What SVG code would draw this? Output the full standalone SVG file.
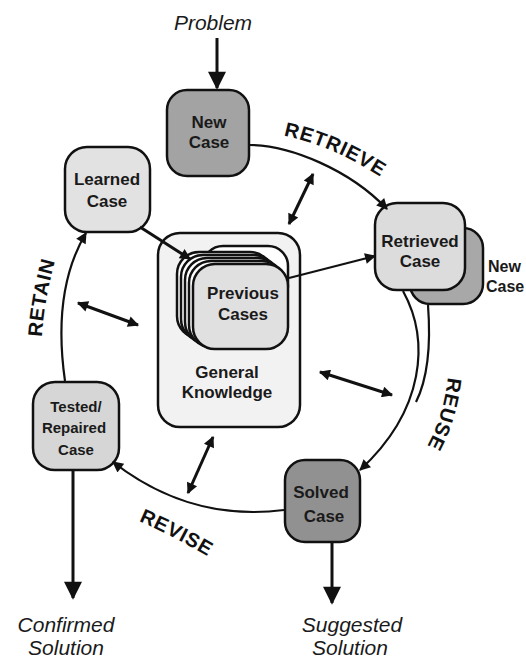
<svg xmlns="http://www.w3.org/2000/svg" width="526" height="660" viewBox="0 0 526 660">
<style>
.box{stroke:#111;stroke-width:2.5}
.lbl{font-family:"Liberation Sans",Arial,sans-serif;font-weight:bold;font-size:17px;fill:#1a1a1a;text-anchor:middle}
.sm{font-size:15px}
.it{font-family:"Liberation Sans",Arial,sans-serif;font-style:italic;font-size:21px;fill:#1a1a1a;text-anchor:middle}
.stage{font-family:"Liberation Sans",Arial,sans-serif;font-weight:bold;font-size:20px;fill:#111;letter-spacing:0.8px}
.arc{fill:none;stroke:#111;stroke-width:2.2}
.thick{fill:none;stroke:#111;stroke-width:3}
</style>
<defs>
<marker id="ah" viewBox="0 0 10 10" refX="9" refY="5" markerWidth="16" markerHeight="11" markerUnits="userSpaceOnUse" orient="auto-start-reverse"><path d="M0,0 L10,5 L0,10 z" fill="#111"/></marker>
<marker id="big" viewBox="0 0 10 10" refX="9" refY="5" markerWidth="28" markerHeight="18" markerUnits="userSpaceOnUse" orient="auto"><path d="M0,0 L10,5 L0,10 z" fill="#111"/></marker>
<path id="pRetrieve" d="M268,133 Q330,141 394,186"/>
<path id="pReuse" d="M449,366 Q445,420 421,456"/>
<path id="pRevise" d="M126,516 Q172,534 220,564"/>
<path id="pRetain" d="M41,350 Q43,298 59,248"/>
</defs>

<g id="stage-labels">
<text class="stage"><textPath href="#pRetrieve" startOffset="50%" text-anchor="middle">RETRIEVE</textPath></text>
<text class="stage"><textPath href="#pReuse" startOffset="50%" text-anchor="middle">REUSE</textPath></text>
<text class="stage"><textPath href="#pRevise" startOffset="50%" text-anchor="middle">REVISE</textPath></text>
<text class="stage"><textPath href="#pRetain" startOffset="50%" text-anchor="middle">RETAIN</textPath></text>
</g>

<g id="problem"><text class="it" x="213" y="30">Problem</text></g>

<g id="new-case">
<rect class="box" x="167" y="90" width="82" height="86" rx="20" fill="#a3a3a3"/>
<text class="lbl" x="209" y="128">New</text>
<text class="lbl" x="209" y="148">Case</text>
</g>

<g id="retrieved-case">
<rect class="box" x="410" y="228" width="73" height="76" rx="20" fill="#a8a8a8"/>
<rect class="box" x="375" y="203" width="90" height="87" rx="22" fill="#dcdcdc"/>
<text class="lbl" x="420" y="247">Retrieved</text>
<text class="lbl" x="420" y="267">Case</text>
<text class="lbl" x="488" y="272" style="text-anchor:start;font-size:16px">New</text>
<text class="lbl" x="486" y="292" style="text-anchor:start;font-size:16px">Case</text>
</g>

<g id="learned-case">
<rect class="box" x="65" y="147" width="85" height="85" rx="22" fill="#e2e2e2"/>
<text class="lbl" x="107" y="185">Learned</text>
<text class="lbl" x="107" y="207">Case</text>
</g>

<g id="general-knowledge">
<rect class="box" x="158" y="233" width="142" height="194" rx="22" fill="#f2f2f2"/>
<text class="lbl" x="227" y="378">General</text>
<text class="lbl" x="227" y="398">Knowledge</text>
</g>

<g id="previous-cases">
<rect class="box" x="203" y="246" width="85" height="60" rx="20" fill="#fff" stroke-width="2"/>
<rect class="box" x="177" y="252" width="95" height="86" rx="22" fill="#fff" stroke-width="2"/>
<rect class="box" x="181" y="255" width="95" height="86" rx="22" fill="#fff" stroke-width="2"/>
<rect class="box" x="185" y="258" width="95" height="86" rx="22" fill="#fff" stroke-width="2"/>
<rect class="box" x="189" y="261" width="95" height="86" rx="22" fill="#fff" stroke-width="2"/>
<rect class="box" x="193" y="264" width="95" height="85" rx="22" fill="#e0e0e0" stroke-width="2"/>
<text class="lbl" x="243" y="299">Previous</text>
<text class="lbl" x="243" y="320">Cases</text>
</g>

<g id="tested-case">
<rect class="box" x="33" y="382" width="86" height="88" rx="22" fill="#d6d6d6"/>
<text class="lbl sm" x="76" y="412">Tested/</text>
<text class="lbl sm" x="74" y="433">Repaired</text>
<text class="lbl sm" x="76" y="455">Case</text>
</g>

<g id="solved-case">
<rect class="box" x="285" y="460" width="75" height="82" rx="20" fill="#919191"/>
<text class="lbl" x="321" y="498">Solved</text>
<text class="lbl" x="324" y="522">Case</text>
</g>

<g id="outputs">
<text class="it" x="66" y="632">Confirmed</text>
<text class="it" x="66" y="655">Solution</text>
<text class="it" x="352" y="632">Suggested</text>
<text class="it" x="350" y="655">Solution</text>
</g>

<g id="connectors">
<line class="thick" x1="217" y1="38" x2="217" y2="88" marker-end="url(#big)"/>
<path class="arc" d="M249,145 C290,145 350,170 387,209" marker-end="url(#ah)"/>
<path class="arc" d="M403,291 C430,340 425,410 360,470" marker-end="url(#ah)"/>
<path class="arc" d="M428,305 C431,345 427,380 416,402"/>
<path class="arc" d="M284,510 Q190,522 113,462" marker-end="url(#ah)"/>
<path class="arc" d="M65,381 Q52,290 86,233" marker-end="url(#ah)"/>
<line class="thick" x1="140" y1="227" x2="190" y2="259" marker-end="url(#ah)"/>
<line class="arc" x1="289" y1="278" x2="375" y2="256" marker-end="url(#ah)"/>
<line class="thick" x1="73" y1="471" x2="73" y2="598" marker-end="url(#big)"/>
<line class="thick" x1="332" y1="543" x2="332" y2="603" marker-end="url(#big)"/>
<line class="thick" x1="313" y1="174" x2="289" y2="224" marker-start="url(#ah)" marker-end="url(#ah)"/>
<line class="thick" x1="78" y1="303" x2="138" y2="325" marker-start="url(#ah)" marker-end="url(#ah)"/>
<line class="thick" x1="320" y1="372" x2="392" y2="395" marker-start="url(#ah)" marker-end="url(#ah)"/>
<line class="thick" x1="213" y1="437" x2="188" y2="493" marker-start="url(#ah)" marker-end="url(#ah)"/>
</g>
</svg>
